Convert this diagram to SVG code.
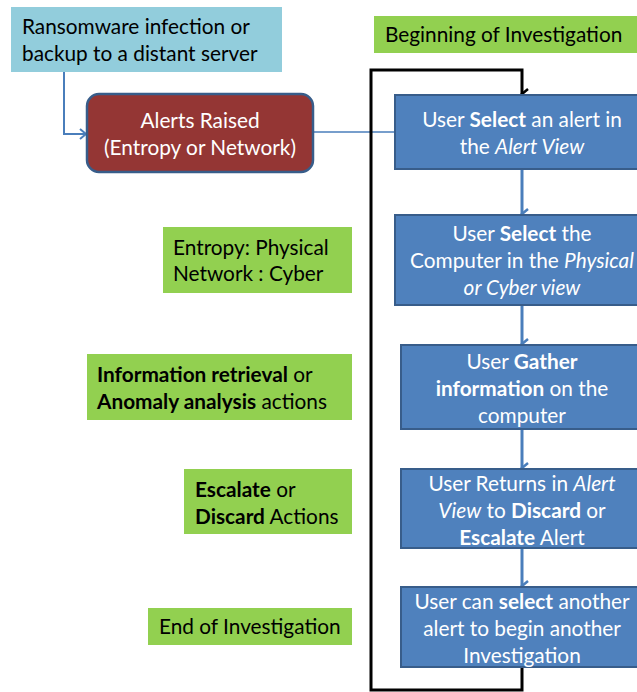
<svg xmlns="http://www.w3.org/2000/svg" width="637" height="692" viewBox="0 0 637 692">
<style>
.t{font-family:Lato,"Liberation Sans",sans-serif;font-size:20.8px}
.w{fill:#fff}
.k{fill:#000}
.b{font-weight:bold}
.i{font-style:italic}
.step{fill:#4F81BD;stroke:#385D8A;stroke-width:2}
.note{fill:#92D050}
.blue{stroke:#4A7EBB;stroke-width:3;fill:none}
</style>
<defs>
<marker id="ab" markerWidth="12" markerHeight="12" refX="6" refY="10" orient="auto" markerUnits="userSpaceOnUse" viewBox="0 0 12 12">
<path d="M1,4 L6,10 L11,4" fill="none" stroke="#4A7EBB" stroke-width="2.5"/>
</marker>
<marker id="ak" markerWidth="12" markerHeight="12" refX="6" refY="10" orient="auto" markerUnits="userSpaceOnUse" viewBox="0 0 12 12">
<path d="M1,4 L6,10 L11,4" fill="none" stroke="#000" stroke-width="2.5"/>
</marker>
<marker id="as" markerWidth="12" markerHeight="12" refX="10" refY="6" orient="auto" markerUnits="userSpaceOnUse" viewBox="0 0 12 12">
<path d="M4,1 L10,6 L4,11" fill="none" stroke="#4A7EBB" stroke-width="2"/>
</marker>
</defs>

<g id="connectors">
<path d="M64,72 V134 H86" fill="none" stroke="#4A7EBB" stroke-width="2" marker-end="url(#as)"/>
<line x1="313" y1="132" x2="395" y2="132" stroke="#4A7EBB" stroke-width="1.5"/>
<line x1="522" y1="169" x2="522" y2="214" class="blue" marker-end="url(#ab)"/>
<line x1="522" y1="305" x2="522" y2="344" class="blue" marker-end="url(#ab)"/>
<line x1="522" y1="429" x2="522" y2="468" class="blue" marker-end="url(#ab)"/>
<line x1="522" y1="548" x2="522" y2="586" class="blue" marker-end="url(#ab)"/>
<path d="M522,667 V690 H371 V70 H522 V94" fill="none" stroke="#000" stroke-width="3" marker-end="url(#ak)"/>
</g>

<g id="source">
<rect x="11" y="7" width="271" height="65" fill="#92CDDC"/>
<text class="t k" x="22" y="34">Ransomware infection or</text>
<text class="t k" x="22" y="61">backup to a distant server</text>
</g>

<g id="alerts">
<rect x="87" y="94" width="226" height="78" rx="12" fill="#943634" stroke="#385D8A" stroke-width="2.5"/>
<text class="t w" x="200" y="128" text-anchor="middle">Alerts Raised</text>
<text class="t w" x="200" y="155" text-anchor="middle">(Entropy or Network)</text>
</g>

<g id="begin">
<rect x="374" y="16" width="265" height="37" class="note"/>
<text class="t k" x="385" y="42">Beginning of Investigation</text>
</g>

<g id="step1">
<rect x="395" y="95" width="250" height="74" class="step"/>
<text class="t w" x="522" y="127" text-anchor="middle">User <tspan class="b">Select</tspan> an alert in</text>
<text class="t w" x="522" y="154" text-anchor="middle">the <tspan class="i">Alert View</tspan></text>
</g>

<g id="step2">
<rect x="395" y="215" width="250" height="90" class="step"/>
<text class="t w" x="522" y="241" text-anchor="middle">User <tspan class="b">Select</tspan> the</text>
<text class="t w" x="522" y="268" text-anchor="middle">Computer in the <tspan class="i">Physical</tspan></text>
<text class="t w i" x="522" y="295" text-anchor="middle">or Cyber view</text>
</g>

<g id="step3">
<rect x="401" y="345" width="244" height="84" class="step"/>
<text class="t w" x="522" y="369" text-anchor="middle">User <tspan class="b">Gather</tspan></text>
<text class="t w" x="522" y="396" text-anchor="middle"><tspan class="b">information</tspan> on the</text>
<text class="t w" x="522" y="423" text-anchor="middle">computer</text>
</g>

<g id="step4">
<rect x="401" y="469" width="244" height="79" class="step"/>
<text class="t w" x="522" y="491" text-anchor="middle">User Returns in <tspan class="i">Alert</tspan></text>
<text class="t w" x="522" y="518" text-anchor="middle"><tspan class="i">View</tspan> to <tspan class="b">Discard</tspan> or</text>
<text class="t w" x="522" y="545" text-anchor="middle"><tspan class="b">Escalate</tspan> Alert</text>
</g>

<g id="step5">
<rect x="401" y="587" width="244" height="80" class="step"/>
<text class="t w" x="522" y="609" text-anchor="middle">User can <tspan class="b">select</tspan> another</text>
<text class="t w" x="522" y="636" text-anchor="middle">alert to begin another</text>
<text class="t w" x="522" y="663" text-anchor="middle">Investigation</text>
</g>

<g id="note-entropy">
<rect x="163" y="227" width="189" height="66" class="note"/>
<text class="t k" x="173" y="255">Entropy: Physical</text>
<text class="t k" x="173" y="281">Network : Cyber</text>
</g>

<g id="note-info">
<rect x="87" y="354" width="265" height="66" class="note"/>
<text class="t k" x="97" y="382"><tspan class="b">Information retrieval</tspan> or</text>
<text class="t k" x="97" y="409"><tspan class="b">Anomaly analysis</tspan> actions</text>
</g>

<g id="note-escalate">
<rect x="184" y="469" width="168" height="65" class="note"/>
<text class="t k" x="195" y="497"><tspan class="b">Escalate</tspan> or</text>
<text class="t k" x="195" y="524"><tspan class="b">Discard</tspan> Actions</text>
</g>

<g id="note-end">
<rect x="148" y="608" width="204" height="37" class="note"/>
<text class="t k" x="159" y="634">End of Investigation</text>
</g>
</svg>
